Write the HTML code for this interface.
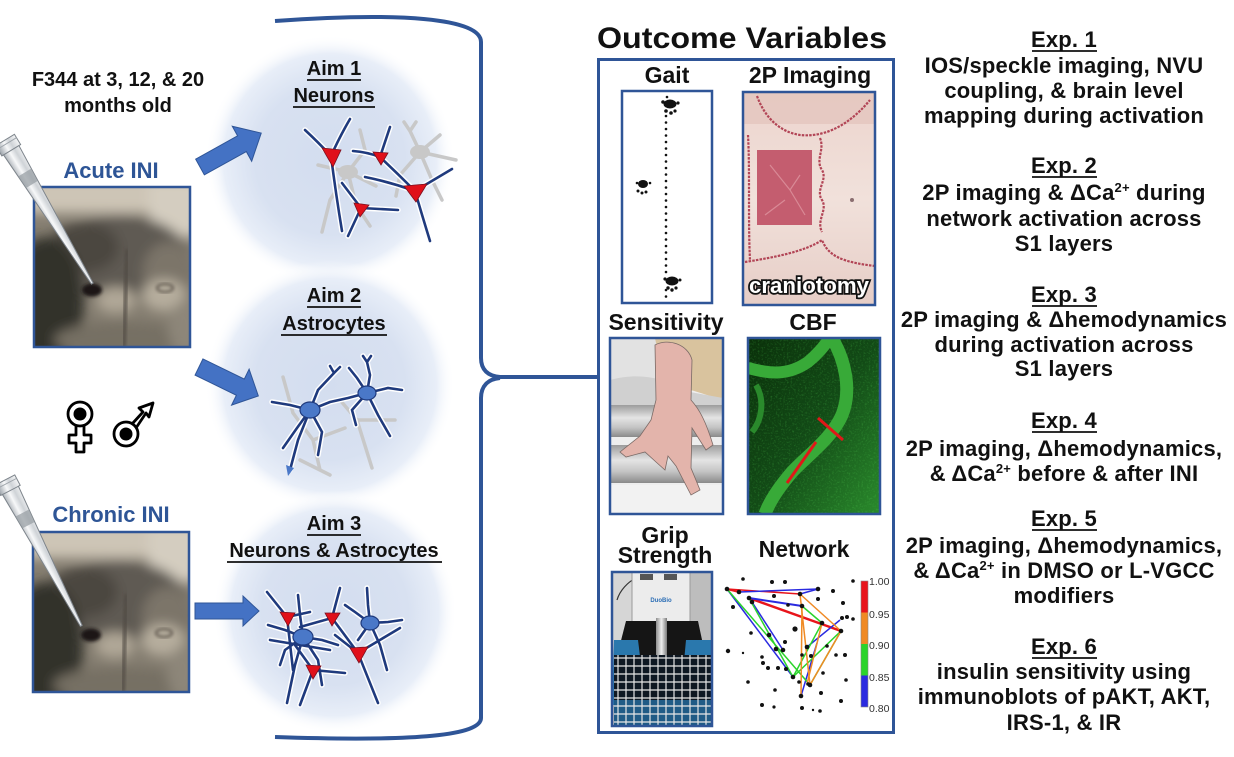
<!DOCTYPE html>
<html><head><meta charset="utf-8"><style>
html,body{margin:0;padding:0;background:#fff;}
svg{display:block;}
text{font-family:"Liberation Sans",Arial,sans-serif;font-weight:bold;}
</style></head><body>
<svg width="1234" height="757" viewBox="0 0 1234 757" xmlns="http://www.w3.org/2000/svg">
<defs>
 <radialGradient id="glow" cx="50%" cy="50%" r="50%">
  <stop offset="0" stop-color="#d3ddef"/>
  <stop offset="0.6" stop-color="#d8e1f1"/>
  <stop offset="0.85" stop-color="#e8eef8"/>
  <stop offset="1" stop-color="#ffffff" stop-opacity="0"/>
 </radialGradient>
 <linearGradient id="pip" x1="0" y1="0" x2="0" y2="1">
  <stop offset="0" stop-color="#f4f5f6"/>
  <stop offset="0.35" stop-color="#cfd3d7"/>
  <stop offset="0.6" stop-color="#f7f8f9"/>
  <stop offset="1" stop-color="#9aa1a8"/>
 </linearGradient>
 <linearGradient id="rod1" x1="0" y1="0" x2="0" y2="1">
  <stop offset="0" stop-color="#9c9c9c"/>
  <stop offset="0.4" stop-color="#e4e4e4"/>
  <stop offset="0.7" stop-color="#c4c4c4"/>
  <stop offset="1" stop-color="#8a8a8a"/>
 </linearGradient>
 <linearGradient id="silver" x1="0" y1="0" x2="1" y2="0">
  <stop offset="0" stop-color="#8d8d8d"/>
  <stop offset="0.5" stop-color="#eeeeee"/>
  <stop offset="1" stop-color="#7a7a7a"/>
 </linearGradient>
 <linearGradient id="cbfbg" x1="0" y1="0" x2="1" y2="1">
  <stop offset="0" stop-color="#0a300a"/>
  <stop offset="0.5" stop-color="#124a16"/>
  <stop offset="1" stop-color="#2a8a2c"/>
 </linearGradient>
 <linearGradient id="twop" x1="0" y1="0" x2="0" y2="1">
  <stop offset="0" stop-color="#ecd4cd"/>
  <stop offset="0.5" stop-color="#f1e1db"/>
  <stop offset="1" stop-color="#e6cdc6"/>
 </linearGradient>
 <filter id="bl5" x="-20%" y="-20%" width="140%" height="140%"><feGaussianBlur stdDeviation="6"/></filter>
 <filter id="bl2" x="-20%" y="-20%" width="140%" height="140%"><feGaussianBlur stdDeviation="1.5"/></filter>
 <filter id="noise" x="0" y="0" width="100%" height="100%">
  <feTurbulence type="fractalNoise" baseFrequency="0.55" numOctaves="2" seed="4"/>
  <feColorMatrix type="matrix" values="0 0 0 0 0.1  0 0 0 0 0.7  0 0 0 0 0.1  0 0 0 2.0 -1.0"/>
 </filter>
 <clipPath id="ratclip"><rect x="0" y="0" width="156" height="160"/></clipPath>
 <clipPath id="c2p"><rect x="743" y="92" width="132" height="213"/></clipPath>
 <clipPath id="ccbf"><rect x="748" y="338" width="132" height="176"/></clipPath>
 <clipPath id="csens"><rect x="610" y="338" width="113" height="176"/></clipPath>
 <clipPath id="cgrip"><rect x="612" y="572" width="100" height="154"/></clipPath>
 <g id="rat" clip-path="url(#ratclip)">
  <rect width="156" height="160" fill="#847d70"/>
  <g filter="url(#bl5)">
   <rect x="-10" y="-10" width="180" height="36" fill="#cdc5b6"/>
   <rect x="115" y="-5" width="50" height="55" fill="#d4cdc0"/>
   <ellipse cx="85" cy="70" rx="70" ry="42" fill="#5f5a52"/>
   <ellipse cx="50" cy="60" rx="35" ry="25" fill="#4b4741"/>
   <ellipse cx="12" cy="115" rx="38" ry="65" fill="#33302b"/>
   <ellipse cx="135" cy="85" rx="26" ry="30" fill="#7c7569"/>
   <ellipse cx="82" cy="113" rx="20" ry="13" fill="#b0a797"/>
   <ellipse cx="130" cy="108" rx="22" ry="16" fill="#b6ad9d"/>
   <ellipse cx="90" cy="153" rx="70" ry="18" fill="#766f63"/>
   <ellipse cx="150" cy="140" rx="16" ry="26" fill="#8d8679"/>
  </g>
  <path d="M93,62 L90,160" stroke="#4f4a43" stroke-width="3" filter="url(#bl2)"/>
  <ellipse cx="58" cy="103" rx="10" ry="6.5" fill="#1a1816" filter="url(#bl2)"/>
  <ellipse cx="131" cy="101" rx="8" ry="4" fill="none" stroke="#5e574d" stroke-width="2" filter="url(#bl2)"/>
 </g>
 <g id="pipette">
  <polygon points="0,-11 12,-11 12,-9 168,-1 168,1 12,9 12,11 0,11" fill="url(#pip)" stroke="#7d848b" stroke-width="1"/>
  <line x1="12" y1="-9" x2="12" y2="9" stroke="#7d848b" stroke-width="1"/>
  <line x1="4" y1="-11" x2="4" y2="11" stroke="#a0a6ac" stroke-width="1"/>
  <polygon points="38,-7.5 52,-6.8 52,6.8 38,7.5" fill="#9aa0a6" opacity="0.75"/>
 </g>
</defs>

<rect width="1234" height="757" fill="#fff"/>

<!-- glows -->
<circle cx="330" cy="160" r="125" fill="url(#glow)"/>
<circle cx="330" cy="385" r="125" fill="url(#glow)"/>
<circle cx="335" cy="612" r="122" fill="url(#glow)"/>

<!-- left text -->
<text x="118" y="86" font-size="20" text-anchor="middle" fill="#111">F344 at 3, 12, &amp; 20</text>
<text x="118" y="112" font-size="20" text-anchor="middle" fill="#111">months old</text>
<text x="111" y="178" font-size="22" text-anchor="middle" fill="#2e5596">Acute INI</text>
<text x="111" y="522" font-size="22" text-anchor="middle" fill="#2e5596">Chronic INI</text>

<!-- photos -->
<use href="#rat" x="34" y="187"/>
<rect x="34" y="187" width="156" height="160" fill="none" stroke="#2f5597" stroke-width="2.5"/>
<use href="#rat" x="33" y="532"/>
<rect x="33" y="532" width="156" height="160" fill="none" stroke="#2f5597" stroke-width="2.5"/>
<g transform="translate(5,140) rotate(58.7)"><use href="#pipette"/></g>
<g transform="translate(5,480) rotate(62.4)"><use href="#pipette" transform="scale(0.98,1)"/></g>

<!-- gender symbols -->
<g fill="#fff" stroke="#000" stroke-width="2.8" stroke-linejoin="round">
 <polygon points="76,425 84,425 84,435 91,435 91,443 84,443 84,452 76,452 76,443 69,443 69,435 76,435"/>
 <circle cx="80" cy="414" r="12"/>
 <polygon points="132,424 143,412 139,408 153,403 149,417 146,413 136,428"/>
 <circle cx="126" cy="434" r="12"/>
</g>
<circle cx="80" cy="414" r="6.5" fill="#000"/>
<circle cx="126" cy="434" r="6.5" fill="#000"/>

<!-- arrows -->
<g fill="#4472c4" stroke="#2f5597" stroke-width="1">
 <polygon transform="translate(200,167) rotate(-29)" points="0,-9 48,-9 48,-20 70,0 48,20 48,9 0,9"/>
 <polygon transform="translate(199,367) rotate(26)" points="0,-9 46,-9 46,-20 66,0 46,20 46,9 0,9"/>
 <polygon transform="translate(195,611)" points="0,-8 48,-8 48,-15 64,0 48,15 48,8 0,8"/>
</g>

<!-- Aim labels -->
<g font-size="20" text-anchor="middle" fill="#111">
 <text x="334" y="75">Aim 1</text>
 <text x="334" y="102">Neurons</text>
 <text x="334" y="302">Aim 2</text>
 <text x="334" y="330">Astrocytes</text>
 <text x="334" y="530">Aim 3</text>
 <text x="334" y="557">Neurons &amp; Astrocytes</text>
</g>
<g stroke="#111" stroke-width="1.8">
 <line x1="307" y1="80" x2="361" y2="80"/>
 <line x1="293" y1="107" x2="375" y2="107"/>
 <line x1="307" y1="307" x2="361" y2="307"/>
 <line x1="281" y1="335" x2="387" y2="335"/>
 <line x1="307" y1="535" x2="361" y2="535"/>
 <line x1="227" y1="562" x2="442" y2="562"/>
</g>

<!-- Aim 1 drawing -->
<g stroke="#c8c8c8" stroke-width="3.5" fill="none" stroke-linecap="round">
 <path d="M348,172 L318,165 M348,172 L330,200 L322,232 M348,172 L365,150 L360,130 M348,172 L376,186 M348,172 L356,205 L370,226 M420,152 L410,131 L404,122 M410,131 L416,122 M420,152 L440,135 M420,152 L456,160 M420,152 L400,175 L396,196 M420,152 L432,180 L442,200"/>
</g>
<ellipse cx="348" cy="172" rx="10" ry="7" fill="#c8c8c8"/>
<ellipse cx="420" cy="152" rx="10" ry="7" fill="#c8c8c8"/>
<path d="M305,130 Q318,142 331,156 M331,156 Q340,136 350,119 M331,156 Q336,195 342,231 M353,151 Q367,152 380,157 M380,157 L390,127 M380,157 Q398,174 415,191 M365,177 Q390,182 415,191 M415,191 L452,169 M415,191 Q422,215 430,241 M342,183 L361,208 M361,208 L398,210 M361,208 L348,236" fill="none" stroke="#fff" stroke-width="5.5" stroke-linecap="round"/>
<path d="M305,130 Q318,142 331,156 M331,156 Q340,136 350,119 M331,156 Q336,195 342,231 M353,151 Q367,152 380,157 M380,157 L390,127 M380,157 Q398,174 415,191 M365,177 Q390,182 415,191 M415,191 L452,169 M415,191 Q422,215 430,241 M342,183 L361,208 M361,208 L398,210 M361,208 L348,236" fill="none" stroke="#1f3a7d" stroke-width="2.6" stroke-linecap="round"/>
<g fill="#e0101a" stroke="#7a1020" stroke-width="0.8">
 <polygon points="322,148 341,150 333,167"/>
 <polygon points="373,152 388,153 381,165"/>
 <polygon points="404,186 427,184 416,202"/>
 <polygon points="354,203 369,205 360,217"/>
</g>

<!-- Aim 2 drawing -->
<g stroke="#c8c8c8" stroke-width="3.5" fill="none" stroke-linecap="round">
 <path d="M283,377 L293,413 L313,440 L320,470 M313,440 L345,428 M357,420 L372,468 M357,420 L340,400 M357,420 L395,420 M300,460 L330,475"/>
</g>
<path d="M310,410 L290,405 L272,402 M310,410 L318,390 L334,373 M310,410 L330,402 L348,398 M310,410 L322,432 L318,455 M310,410 L298,440 L290,470 M310,410 L297,428 L283,448 M367,393 L357,378 L349,368 M367,393 L370,375 L367,362 M367,393 L388,388 L402,390 M367,393 L378,415 L390,436 M367,393 L352,410 L356,425 M367,393 L348,398 M334,373 L330,366 M334,373 L340,367 M367,362 L363,356 M367,362 L371,356" fill="none" stroke="#fff" stroke-width="5.5" stroke-linecap="round"/>
<path d="M310,410 L290,405 L272,402 M310,410 L318,390 L334,373 M310,410 L330,402 L348,398 M310,410 L322,432 L318,455 M310,410 L298,440 L290,470 M310,410 L297,428 L283,448 M367,393 L357,378 L349,368 M367,393 L370,375 L367,362 M367,393 L388,388 L402,390 M367,393 L378,415 L390,436 M367,393 L352,410 L356,425 M367,393 L348,398 M334,373 L330,366 M334,373 L340,367 M367,362 L363,356 M367,362 L371,356" fill="none" stroke="#1f3a7d" stroke-width="2.6" stroke-linecap="round"/>
<ellipse cx="310" cy="410" rx="10" ry="8" fill="#4a78c8" stroke="#1f3a7d" stroke-width="1.2"/>
<ellipse cx="367" cy="393" rx="9" ry="7" fill="#4a78c8" stroke="#1f3a7d" stroke-width="1.2"/>
<polygon points="286,465 294,468 288,476" fill="#4a78c8"/>

<!-- Aim 3 drawing -->
<path d="M303,637 L285,630 L268,625 M303,637 L300,615 L298,595 M303,637 L322,640 L338,645 M303,637 L318,660 L322,685 M303,637 L295,665 L287,703 M303,637 L285,650 L280,665 M370,623 L368,605 L367,588 M370,623 L388,622 L402,620 M370,623 L380,645 L387,670 M370,623 L355,612 L345,605 M370,623 L358,640 M267,592 L287,617 L293,670 M287,617 L310,612 M340,588 L332,618 L300,627 M332,618 L358,653 M335,635 L358,653 L378,703 M358,653 L400,628 M295,645 L313,670 L345,673 M313,670 L300,705 M270,640 L330,650" fill="none" stroke="#fff" stroke-width="5.5" stroke-linecap="round"/>
<path d="M303,637 L285,630 L268,625 M303,637 L300,615 L298,595 M303,637 L322,640 L338,645 M303,637 L318,660 L322,685 M303,637 L295,665 L287,703 M303,637 L285,650 L280,665 M370,623 L368,605 L367,588 M370,623 L388,622 L402,620 M370,623 L380,645 L387,670 M370,623 L355,612 L345,605 M370,623 L358,640 M267,592 L287,617 L293,670 M287,617 L310,612 M340,588 L332,618 L300,627 M332,618 L358,653 M335,635 L358,653 L378,703 M358,653 L400,628 M295,645 L313,670 L345,673 M313,670 L300,705 M270,640 L330,650" fill="none" stroke="#1f3a7d" stroke-width="2.6" stroke-linecap="round"/>
<ellipse cx="303" cy="637" rx="10" ry="8" fill="#4a78c8" stroke="#1f3a7d" stroke-width="1.2"/>
<ellipse cx="370" cy="623" rx="9" ry="7" fill="#4a78c8" stroke="#1f3a7d" stroke-width="1.2"/>
<g fill="#e0101a" stroke="#7a1020" stroke-width="0.8">
 <polygon points="280,612 295,613 288,626"/>
 <polygon points="325,613 340,613 332,626"/>
 <polygon points="350,648 368,647 359,663"/>
 <polygon points="306,665 321,666 313,679"/>
</g>

<!-- brace -->
<path d="M275,21 C400,12 481,18 481,42 L481,358 C481,370 488,376 500,377 L597,377 M500,378 C488,379 481,386 481,398 L481,718 C481,735 420,742 275,737" fill="none" stroke="#2f5597" stroke-width="4"/>

<!-- Outcome Variables -->
<text x="742" y="48" font-size="30" text-anchor="middle" fill="#111" textLength="290" lengthAdjust="spacingAndGlyphs">Outcome Variables</text>
<rect x="598.5" y="59.5" width="295" height="673" fill="none" stroke="#2f5597" stroke-width="3"/>

<g font-size="23" text-anchor="middle" fill="#111">
 <text x="667" y="83">Gait</text>
 <text x="810" y="83">2P Imaging</text>
 <text x="666" y="330">Sensitivity</text>
 <text x="813" y="330">CBF</text>
 <text x="665" y="543">Grip</text>
 <text x="665" y="563">Strength</text>
 <text x="804" y="557">Network</text>
</g>

<!-- Gait -->
<rect x="622" y="91" width="90" height="212" fill="#fff" stroke="#2f5597" stroke-width="2.5"/>
<g fill="#111">
 <circle cx="666" cy="116" r="1.3"/><circle cx="666" cy="122.5" r="1.3"/><circle cx="666" cy="129" r="1.3"/><circle cx="666" cy="135.5" r="1.3"/><circle cx="666" cy="142" r="1.3"/><circle cx="666" cy="148.5" r="1.3"/><circle cx="666" cy="155" r="1.3"/><circle cx="666" cy="161.5" r="1.3"/><circle cx="666" cy="168" r="1.3"/><circle cx="666" cy="174.5" r="1.3"/><circle cx="666" cy="181" r="1.3"/><circle cx="666" cy="187.5" r="1.3"/><circle cx="666" cy="194" r="1.3"/><circle cx="666" cy="200.5" r="1.3"/><circle cx="666" cy="207" r="1.3"/><circle cx="666" cy="213.5" r="1.3"/><circle cx="666" cy="220" r="1.3"/><circle cx="666" cy="226.5" r="1.3"/><circle cx="666" cy="233" r="1.3"/><circle cx="666" cy="239.5" r="1.3"/><circle cx="666" cy="246" r="1.3"/><circle cx="666" cy="252.5" r="1.3"/><circle cx="666" cy="259" r="1.3"/><circle cx="666" cy="265.5" r="1.3"/><circle cx="666" cy="272" r="1.3"/><circle cx="666" cy="290" r="1.3"/><circle cx="666" cy="296.5" r="1.3"/>
 <ellipse cx="670" cy="104" rx="6.5" ry="4.5"/><circle cx="663" cy="102" r="1.8"/><circle cx="678" cy="103" r="1.6"/><circle cx="667" cy="97" r="1.3"/><circle cx="666" cy="111" r="1.8"/><circle cx="671" cy="113" r="1.8"/><circle cx="675" cy="111" r="1.6"/>
 <ellipse cx="643" cy="184" rx="5" ry="4"/><circle cx="637" cy="183" r="1.3"/><circle cx="650" cy="183" r="1.3"/><circle cx="638" cy="191" r="1.5"/><circle cx="642" cy="193" r="1.5"/><circle cx="646" cy="192" r="1.5"/>
 <ellipse cx="672" cy="281" rx="6.5" ry="4.5"/><circle cx="665" cy="279" r="1.6"/><circle cx="680" cy="280" r="1.5"/><circle cx="668" cy="288" r="1.7"/><circle cx="672" cy="290" r="1.7"/><circle cx="676" cy="288" r="1.6"/>
</g>

<!-- 2P imaging -->
<g clip-path="url(#c2p)">
 <rect x="743" y="92" width="132" height="213" fill="url(#twop)"/>
 <rect x="743" y="92" width="132" height="32" fill="#e3c6be" opacity="0.8"/>
 <g fill="none" stroke="#b24556" stroke-width="2.2" stroke-dasharray="2.5 1.2">
  <path d="M757,96 C765,118 780,132 800,135 C820,137 845,130 870,100"/>
  <path d="M820,138 C825,150 815,160 822,170 C828,180 815,190 822,200 C828,210 816,220 822,232"/>
  <path d="M745,262 C770,258 805,252 822,240 C828,255 840,262 875,266"/>
  <path d="M748,135 C750,170 748,220 750,260"/>
 </g>
 <rect x="757" y="150" width="55" height="75" fill="#c45d6f"/>
 <path d="M770,165 L790,190 L800,175 M785,200 L765,215 M790,190 L805,215" stroke="#d98a96" stroke-width="1.2" fill="none"/>
 <circle cx="852" cy="200" r="2" fill="#8a6e70"/>
 <text x="809" y="293" font-size="22" text-anchor="middle" fill="#fff" stroke="#111" stroke-width="3.5" paint-order="stroke" textLength="120" lengthAdjust="spacingAndGlyphs">craniotomy</text>
</g>
<rect x="743" y="92" width="132" height="213" fill="none" stroke="#2f5597" stroke-width="2.5"/>

<!-- Sensitivity -->
<g clip-path="url(#csens)">
 <rect x="610" y="338" width="113" height="176" fill="#eeeeee"/>
 <rect x="610" y="338" width="60" height="60" fill="#e2e2e2"/>
 <path d="M655,338 L723,338 L723,398 C712,398 700,392 690,390 C680,385 672,378 662,372 Z" fill="#d9c39e"/>
 <path d="M610,380 C640,372 665,378 690,392 L723,398 L723,412 L610,412 Z" fill="#d0d0d0"/>
 <rect x="610" y="405" width="113" height="32" fill="url(#rod1)"/>
 <rect x="610" y="445" width="113" height="38" fill="url(#rod1)"/>
 <rect x="610" y="485" width="113" height="29" fill="#f2f2f2"/>
 <path d="M655,345 C668,338 688,344 692,360 L691,400 C700,410 706,422 713,445 L706,450 L692,428 L691,468 L700,490 L691,495 L676,466 L668,456 L665,470 L656,462 L645,452 L626,457 L620,452 L640,436 L651,420 L656,400 Z" fill="#e3b4ab" stroke="#7a6a66" stroke-width="0.8"/>
</g>
<rect x="610" y="338" width="113" height="176" fill="none" stroke="#2f5597" stroke-width="2.5"/>

<!-- CBF -->
<g clip-path="url(#ccbf)">
 <rect x="748" y="338" width="132" height="176" fill="url(#cbfbg)"/>
 <rect x="748" y="338" width="132" height="176" filter="url(#noise)" opacity="0.35"/>
 <path d="M748,368 C765,372 785,378 808,362 C818,354 824,346 830,338" fill="none" stroke="#38aa38" stroke-width="12"/>
 <path d="M832,338 C845,360 852,390 842,415 C832,438 808,455 792,472 C780,486 770,500 765,514" fill="none" stroke="#38aa38" stroke-width="13"/>
 <path d="M756,385 C765,400 762,420 752,432" fill="none" stroke="#2a8a2c" stroke-width="6"/>
 <line x1="818" y1="418" x2="843" y2="440" stroke="#e01818" stroke-width="3"/>
 <line x1="816" y1="442" x2="787" y2="483" stroke="#e01818" stroke-width="3"/>
</g>
<rect x="748" y="338" width="132" height="176" fill="none" stroke="#2f5597" stroke-width="2.5"/>

<!-- Grip -->
<g clip-path="url(#cgrip)">
 <rect x="612" y="572" width="100" height="154" fill="#bdbdbd"/>
 <rect x="612" y="572" width="24" height="90" fill="#d6d6d6"/>
 <path d="M617,600 C620,590 628,582 636,578" stroke="#333" stroke-width="1.2" fill="none"/>
 <rect x="632" y="572" width="58" height="50" fill="#ececec" stroke="#9a9a9a" stroke-width="1"/>
 <rect x="640" y="574" width="13" height="6" fill="#555"/>
 <rect x="664" y="574" width="13" height="6" fill="#555"/>
 <text x="661" y="602" font-size="6" text-anchor="middle" fill="#2a6db5">DuoBio</text>
 <polygon points="626,621 698,621 708,668 614,668" fill="#151515"/>
 <polygon points="614,640 638,640 646,705 612,705" fill="#2a78ad"/>
 <polygon points="686,640 712,640 712,705 680,705" fill="#2a78ad"/>
 <rect x="656" y="618" width="11" height="46" fill="url(#silver)"/>
 <rect x="614" y="655" width="98" height="71" fill="#0f1822"/>
 <rect x="614" y="700" width="98" height="26" fill="#1f5b86"/>
 <g stroke="#e6e6e6" stroke-width="1.2">
  <line x1="618" y1="655" x2="618" y2="726"/><line x1="626" y1="655" x2="626" y2="726"/><line x1="634" y1="655" x2="634" y2="726"/><line x1="642" y1="655" x2="642" y2="726"/><line x1="650" y1="655" x2="650" y2="726"/><line x1="658" y1="655" x2="658" y2="726"/><line x1="666" y1="655" x2="666" y2="726"/><line x1="674" y1="655" x2="674" y2="726"/><line x1="682" y1="655" x2="682" y2="726"/><line x1="690" y1="655" x2="690" y2="726"/><line x1="698" y1="655" x2="698" y2="726"/><line x1="706" y1="655" x2="706" y2="726"/>
  <line x1="614" y1="658" x2="712" y2="658"/><line x1="614" y1="666" x2="712" y2="666"/><line x1="614" y1="674" x2="712" y2="674"/><line x1="614" y1="682" x2="712" y2="682"/><line x1="614" y1="690" x2="712" y2="690"/><line x1="614" y1="698" x2="712" y2="698"/><line x1="614" y1="706" x2="712" y2="706"/><line x1="614" y1="714" x2="712" y2="714"/><line x1="614" y1="722" x2="712" y2="722"/>
 </g>
</g>
<rect x="612" y="572" width="100" height="154" fill="none" stroke="#2f5597" stroke-width="2.5"/>

<!-- Network -->
<g fill="none" stroke-width="1.5">
 <line x1="727" y1="589" x2="800" y2="594" stroke="#e8141b"/>
 <line x1="727" y1="589" x2="739" y2="592" stroke="#e8141b" stroke-width="2"/>
 <line x1="749" y1="598" x2="841" y2="631" stroke="#e8141b" stroke-width="2.5"/>
 <line x1="739" y1="592" x2="818" y2="589" stroke="#2a2ae0"/>
 <line x1="800" y1="594" x2="818" y2="589" stroke="#2a2ae0"/>
 <line x1="749" y1="598" x2="802" y2="606" stroke="#2a2ae0" stroke-width="2"/>
 <line x1="727" y1="589" x2="793" y2="677" stroke="#2a2ae0"/>
 <line x1="752" y1="602" x2="783" y2="650" stroke="#2a2ae0"/>
 <line x1="807" y1="647" x2="840" y2="620" stroke="#2a2ae0"/>
 <line x1="801" y1="696" x2="817" y2="643" stroke="#2a2ae0"/>
 <line x1="727" y1="589" x2="810" y2="685" stroke="#2bd42b"/>
 <line x1="749" y1="598" x2="793" y2="677" stroke="#2bd42b"/>
 <line x1="802" y1="606" x2="822" y2="623" stroke="#2bd42b"/>
 <line x1="841" y1="631" x2="793" y2="677" stroke="#2bd42b"/>
 <line x1="841" y1="631" x2="810" y2="685" stroke="#2bd42b"/>
 <line x1="822" y1="623" x2="793" y2="677" stroke="#2bd42b"/>
 <line x1="800" y1="594" x2="841" y2="631" stroke="#f08a24"/>
 <line x1="800" y1="594" x2="810" y2="685" stroke="#f08a24"/>
 <line x1="802" y1="606" x2="801" y2="696" stroke="#f08a24"/>
 <line x1="841" y1="631" x2="810" y2="685" stroke="#f08a24"/>
 <line x1="822" y1="623" x2="807" y2="684" stroke="#f08a24"/>
</g>
<g fill="#111">
 <circle cx="727" cy="589" r="2.3"/><circle cx="739" cy="592" r="2.3"/><circle cx="749" cy="598" r="2.3"/><circle cx="752" cy="602" r="2.3"/><circle cx="800" cy="594" r="2.3"/><circle cx="818" cy="589" r="2.3"/><circle cx="802" cy="606" r="2.3"/><circle cx="822" cy="623" r="2.3"/><circle cx="841" cy="631" r="2.3"/><circle cx="807" cy="647" r="2.3"/><circle cx="793" cy="677" r="2.3"/><circle cx="810" cy="685" r="2.3"/><circle cx="801" cy="696" r="2.3"/><circle cx="783" cy="650" r="2.3"/><circle cx="776" cy="649" r="2.3"/><circle cx="769" cy="635" r="2.3"/>
 <circle cx="743" cy="579" r="1.8"/><circle cx="772" cy="582" r="2"/><circle cx="785" cy="582" r="2"/><circle cx="853" cy="581" r="1.8"/><circle cx="833" cy="591" r="2"/><circle cx="818" cy="599" r="2"/><circle cx="774" cy="596" r="2"/><circle cx="843" cy="603" r="2"/><circle cx="733" cy="607" r="2"/><circle cx="788" cy="605" r="1.8"/><circle cx="842" cy="618" r="2"/><circle cx="847" cy="617" r="2"/><circle cx="853" cy="619" r="1.8"/><circle cx="795" cy="629" r="2.6"/><circle cx="751" cy="633" r="1.8"/><circle cx="728" cy="651" r="2.2"/><circle cx="743" cy="653" r="1.2"/><circle cx="762" cy="657" r="1.8"/><circle cx="763" cy="663" r="2"/><circle cx="768" cy="668" r="2"/><circle cx="778" cy="668" r="2"/><circle cx="786" cy="669" r="2"/><circle cx="785" cy="642" r="2"/><circle cx="827" cy="646" r="1.8"/><circle cx="836" cy="655" r="1.8"/><circle cx="845" cy="655" r="2"/><circle cx="802" cy="655" r="1.8"/><circle cx="811" cy="656" r="2"/><circle cx="823" cy="673" r="1.8"/><circle cx="846" cy="680" r="1.8"/><circle cx="748" cy="682" r="1.8"/><circle cx="775" cy="690" r="1.8"/><circle cx="821" cy="693" r="2"/><circle cx="841" cy="701" r="2"/><circle cx="762" cy="705" r="2"/><circle cx="774" cy="707" r="1.6"/><circle cx="802" cy="708" r="2"/><circle cx="813" cy="710" r="1.2"/><circle cx="820" cy="711" r="1.8"/><circle cx="799" cy="682" r="1.8"/><circle cx="808" cy="684" r="1.8"/>
</g>
<rect x="861" y="581" width="7" height="31.5" fill="#e8141b"/>
<rect x="861" y="612.5" width="7" height="31.5" fill="#f08a24"/>
<rect x="861" y="644" width="7" height="31.5" fill="#2bd42b"/>
<rect x="861" y="675.5" width="7" height="31.5" fill="#2a2ae0"/>
<rect x="861" y="581" width="7" height="126" fill="none" stroke="#888" stroke-width="0.6"/>
<g font-size="10.5" fill="#333">
 <text x="869" y="585" style="font-weight:normal">1.00</text>
 <text x="869" y="618" style="font-weight:normal">0.95</text>
 <text x="869" y="649" style="font-weight:normal">0.90</text>
 <text x="869" y="681" style="font-weight:normal">0.85</text>
 <text x="869" y="712" style="font-weight:normal">0.80</text>
</g>

<!-- Right column -->
<g font-size="22" text-anchor="middle" fill="#111" letter-spacing="0.2">
 <text x="1064" y="47">Exp. 1</text>
 <text x="1064" y="73">IOS/speckle imaging, NVU</text>
 <text x="1064" y="98">coupling, &amp; brain level</text>
 <text x="1064" y="123">mapping during activation</text>

 <text x="1064" y="173">Exp. 2</text>
 <text x="1064" y="200">2P imaging &amp; ΔCa<tspan font-size="13" dy="-8">2+</tspan><tspan dy="8"> during</tspan></text>
 <text x="1064" y="226">network activation across</text>
 <text x="1064" y="251">S1 layers</text>

 <text x="1064" y="302">Exp. 3</text>
 <text x="1064" y="327">2P imaging &amp; Δhemodynamics</text>
 <text x="1064" y="352">during activation across</text>
 <text x="1064" y="376">S1 layers</text>

 <text x="1064" y="428">Exp. 4</text>
 <text x="1064" y="456">2P imaging, Δhemodynamics,</text>
 <text x="1064" y="481">&amp; ΔCa<tspan font-size="13" dy="-8">2+</tspan><tspan dy="8"> before &amp; after INI</tspan></text>

 <text x="1064" y="526">Exp. 5</text>
 <text x="1064" y="553">2P imaging, Δhemodynamics,</text>
 <text x="1064" y="578">&amp; ΔCa<tspan font-size="13" dy="-8">2+</tspan><tspan dy="8"> in DMSO or L-VGCC</tspan></text>
 <text x="1064" y="603">modifiers</text>

 <text x="1064" y="654">Exp. 6</text>
 <text x="1064" y="679">insulin sensitivity using</text>
 <text x="1064" y="704">immunoblots of pAKT, AKT,</text>
 <text x="1064" y="730">IRS-1, &amp; IR</text>
</g>
<g stroke="#111" stroke-width="1.8">
 <line x1="1032" y1="51" x2="1097" y2="51"/>
 <line x1="1032" y1="177" x2="1097" y2="177"/>
 <line x1="1032" y1="306" x2="1097" y2="306"/>
 <line x1="1032" y1="432" x2="1097" y2="432"/>
 <line x1="1032" y1="530" x2="1097" y2="530"/>
 <line x1="1032" y1="658" x2="1097" y2="658"/>
</g>
</svg>
</body></html>
